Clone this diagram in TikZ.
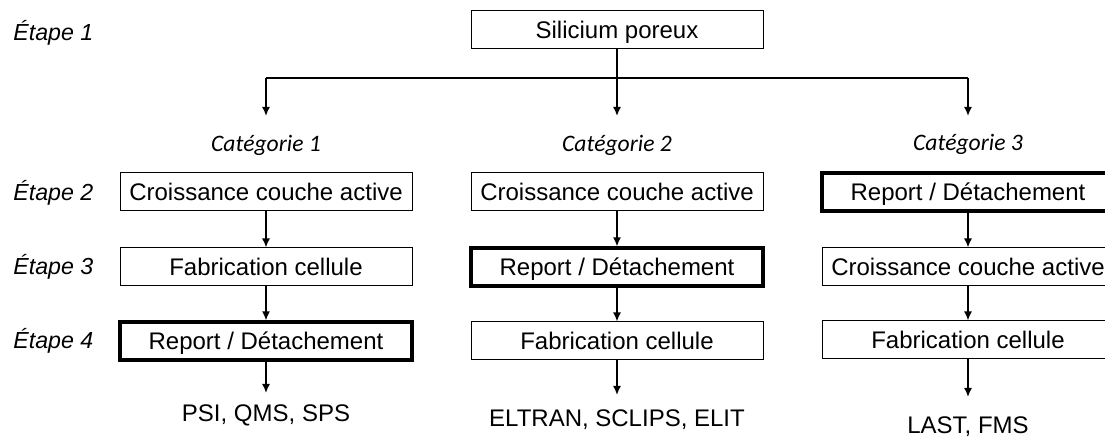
\documentclass[tikz,border=0pt]{standalone}
\usepackage{fontspec}
\setmainfont{Liberation Sans}
\newfontfamily\catfont{Carlito}
\usetikzlibrary{arrows.meta}

\begin{document}
\begin{tikzpicture}[x=0.5pt, y=-0.5pt,
    blockbox/.style={draw, line width=0.5pt, minimum width=146pt, minimum height=19pt, inner sep=0pt, text height=8.6pt, text depth=0pt, font=\fontsize{12}{14}\selectfont},
    thickbox/.style={blockbox, line width=1.6pt},
    etape/.style={anchor=west, inner sep=0pt, font=\fontsize{11.6}{13}\selectfont\itshape},
    cat/.style={inner sep=0pt, font=\catfont\fontsize{11.8}{14}\selectfont\itshape},
    result/.style={inner sep=0pt, font=\fontsize{12}{14}\selectfont},
    fleche/.style={-{Latex[length=4.5pt,width=4pt]}, line width=0.8pt}]
        \useasboundingbox (0,0) rectangle (1105,437);

        % etapes
        \node[etape] (e1) at (13, 33) {Étape 1};
        \node[etape] (e2) at (13, 193) {Étape 2};
        \node[etape] (e3) at (13, 267) {Étape 3};
        \node[etape] (e4) at (13, 341) {Étape 4};

        \node[blockbox] (sp) at (617, 29.5) {Silicium poreux};

        \coordinate (split) at (617, 78);
        \coordinate (t1) at (266, 78);
        \coordinate (t3) at (968, 78);
        \coordinate (a1) at (266, 116);
        \coordinate (a2) at (617, 116);
        \coordinate (a3) at (968, 116);

        \draw[line width=0.8pt] (sp) -- (split);
        \draw[line width=0.8pt] (t1) -- (t3);
        \draw[fleche] (split) -- (a2);
        \draw[fleche] (t1) -- (a1);
        \draw[fleche] (t3) -- (a3);

        \node[cat] (cat1) at (266, 145) {Catégorie 1};
        \node[cat] (cat2) at (617, 145) {Catégorie 2};
        \node[cat] (cat3) at (968, 144) {Catégorie 3};

        % categorie 1
        \node[blockbox] (b12) at (266, 192) {Croissance couche active};
        \node[blockbox] (b13) at (266, 267) {Fabrication cellule};
        \node[thickbox] (b14) at (266, 341) {Report / Détachement};
        \coordinate (f1) at (266, 393);
        \node[result] (r1) at (266, 415) {PSI, QMS, SPS};

        % categorie 2
        \node[blockbox] (b22) at (617, 192) {Croissance couche active};
        \node[thickbox] (b23) at (617, 267) {Report / Détachement};
        \node[blockbox] (b24) at (617, 341) {Fabrication cellule};
        \coordinate (f2) at (617, 395);
        \node[result] (r2) at (617, 420) {ELTRAN, SCLIPS, ELIT};

        % categorie 3
        \node[thickbox] (b32) at (968, 192) {Report / Détachement};
        \node[blockbox] (b33) at (968, 267) {Croissance couche active};
        \node[blockbox] (b34) at (968, 340) {Fabrication cellule};
        \coordinate (f3) at (968, 397);
        \node[result] (r3) at (968, 427) {LAST, FMS};

        \draw[fleche] (b12) -- (b13);
        \draw[fleche] (b13) -- (b14);
        \draw[fleche] (b14) -- (f1);
        \draw[fleche] (b22) -- (b23);
        \draw[fleche] (b23) -- (b24);
        \draw[fleche] (b24) -- (f2);
        \draw[fleche] (b32) -- (b33);
        \draw[fleche] (b33) -- (b34);
        \draw[fleche] (b34) -- (f3);
\end{tikzpicture}
\end{document}
